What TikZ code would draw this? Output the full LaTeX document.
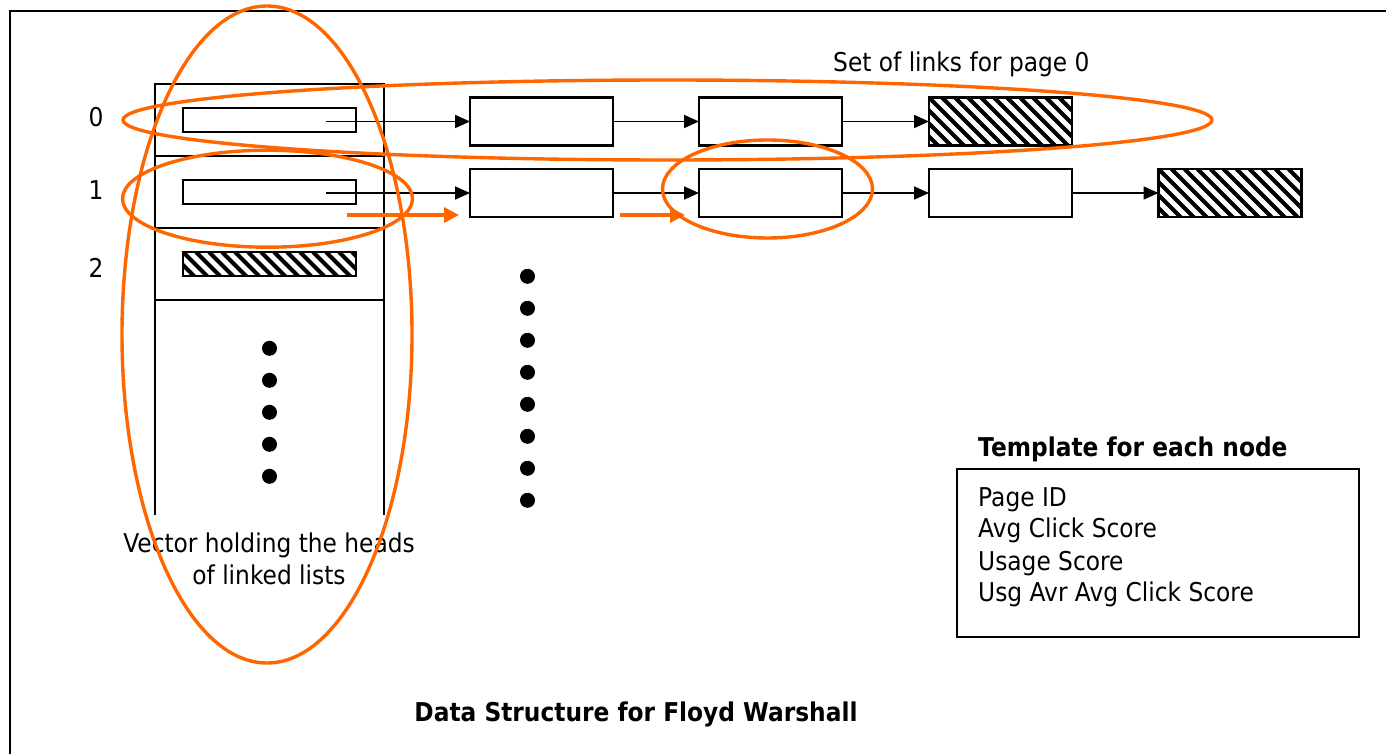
\documentclass[tikz,border=0pt]{standalone}
\usepackage{fontspec}
\setmainfont{DejaVu Sans}[FakeStretch=0.9]
\usetikzlibrary{arrows.meta,shapes.geometric}
\definecolor{hiorange}{HTML}{FF6600}

\begin{document}
\begin{tikzpicture}[x=1pt,y=-1pt,
  txt/.style={font=\fontsize{25.9pt}{31.7pt}\selectfont,inner sep=0pt},
  txtb/.style={font=\fontsize{25.9pt}{31.7pt}\selectfont\bfseries,inner sep=0pt},
  vcell/.style={draw,line width=2.2pt,inner sep=0pt,outer sep=0pt,minimum width=229pt,minimum height=72pt},
  headbox/.style={draw,line width=2pt,inner sep=0pt,outer sep=0pt,minimum width=173pt,minimum height=24pt},
  listbox/.style={draw,line width=2.2pt,inner sep=0pt,outer sep=0pt,minimum width=143pt,minimum height=48pt},
  hatched/.style={path picture={
    \foreach \k in {-8,...,16}
      \draw[line width=4.2pt] ([xshift=\k*13pt]path picture bounding box.north west) -- ++(80pt,-80pt);
  }},
  link/.style={line width=1.7pt,-{Triangle[length=15pt,width=13pt]}},
  hilink/.style={hiorange,line width=3.4pt,-{Triangle[length=15pt,width=15pt]}},
  hiring/.style={ellipse,draw=hiorange,line width=3.4pt,inner sep=0pt,outer sep=0pt},
  dot/.style={circle,fill=black,inner sep=0pt,minimum size=15pt}
]
\useasboundingbox (0,0) rectangle (1386,754);

% outer frame
\draw[line width=2.2pt] (10,754) -- (10,11) -- (1386,11);

% vector of list heads
\node[vcell] (vrow0) at (269.5,120) {};
\node[vcell] (vrow1) at (269.5,192) {};
\node[vcell] (vrow2) at (269.5,264) {};
\coordinate (vbl) at (155,515);
\coordinate (vbr) at (384,515);
\draw[line width=2.2pt] (vrow2.south west) -- (vbl);
\draw[line width=2.2pt] (vrow2.south east) -- (vbr);

\node[headbox] (head0) at (269.5,120.5) {};
\node[headbox] (head1) at (269.5,192.5) {};
\node[headbox,hatched] (head2) at (269.5,264) {};

% row indices
\node[txt,anchor=base] (idx0) at (96,127) {0};
\node[txt,anchor=base] (idx1) at (96,200) {1};
\node[txt,anchor=base] (idx2) at (96,277) {2};

% linked list of page 0
\node[listbox] (a1) at (541.5,121.5) {};
\node[listbox] (a2) at (770.5,121.5) {};
\node[listbox,hatched] (a3) at (1000.5,121.5) {};

% linked list of page 1
\node[listbox] (b1) at (541.5,193) {};
\node[listbox] (b2) at (770.5,193) {};
\node[listbox] (b3) at (1000.5,193) {};
\node[listbox,hatched] (b4) at (1230,193) {};

\coordinate (p0) at (326,121.5);
\coordinate (p1) at (326,193);
\draw[link] (p0) -- (a1.west);
\draw[link] (a1.east) -- (a2.west);
\draw[link] (a2.east) -- (a3.west);
\draw[link] (p1) -- (b1.west);
\draw[link] (b1.east) -- (b2.west);
\draw[link] (b2.east) -- (b3.west);
\draw[link] (b3.east) -- (b4.west);

% ellipsis dots
\foreach \i/\y in {1/348.3,2/380.3,3/412.3,4/444.3,5/476.3}
  \node[dot] (dl\i) at (269.5,\y) {};
\foreach \i/\y in {1/276.3,2/308.3,3/340.3,4/372.3,5/404.3,6/436.3,7/468.3,8/500.3}
  \node[dot] (dr\i) at (527.5,\y) {};

% labels
\node[txt,anchor=base west] (setlbl) at (833,72) {Set of links for page 0};
\node[txt,anchor=base] (veclbl1) at (269,552.7) {Vector holding the heads};
\node[txt,anchor=base] (veclbl2) at (269,584.3) {of linked lists};
\node[txtb,anchor=base] (title) at (636,721) {Data Structure for Floyd Warshall};

% node template
\node[txtb,anchor=base west] (tmplhead) at (978,456) {Template for each node};
\node[draw,line width=2.2pt,inner sep=0pt,minimum width=402pt,minimum height=168pt] (tmpl) at (1158,553) {};
\node[txt,anchor=base west] (f1) at (978,506) {Page ID};
\node[txt,anchor=base west] (f2) at (978,537.7) {Avg Click Score};
\node[txt,anchor=base west] (f3) at (978,570) {Usage Score};
\node[txt,anchor=base west] (f4) at (978,601.7) {Usg Avr Avg Click Score};

% orange highlights
\coordinate (o1s) at (347,215);
\coordinate (o1e) at (459,215);
\coordinate (o2s) at (620,215);
\coordinate (o2e) at (685,215);
\draw[hilink] (o1s) -- (o1e);
\draw[hilink] (o2s) -- (o2e);

\node[hiring,minimum width=290pt,minimum height=657pt] (ringvec) at (267,334.5) {};
\node[hiring,minimum width=1089pt,minimum height=80pt] (ringrow0) at (667.5,120) {};
\node[hiring,minimum width=290pt,minimum height=97pt] (ringhead1) at (267.5,198.7) {};
\node[hiring,minimum width=210pt,minimum height=98pt] (ringb2) at (767.5,189) {};
\end{tikzpicture}
\end{document}
